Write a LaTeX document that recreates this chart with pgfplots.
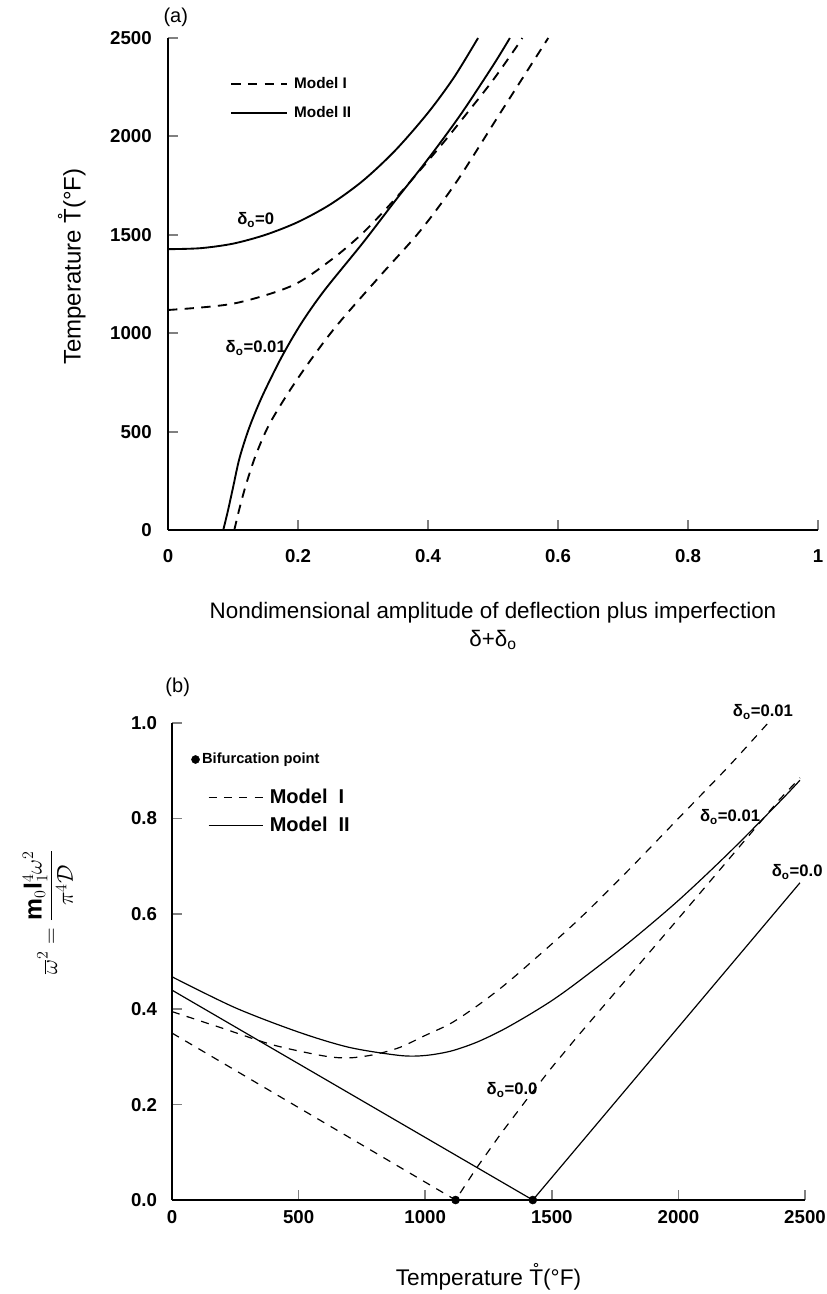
\documentclass[border=0pt]{standalone}
\usepackage{pgfplots}
\pgfplotsset{compat=1.18}
\usepackage{fontspec}
\setmainfont{Liberation Sans}

\pgfplotsset{
  paper/.style={
    scale only axis, clip=false,
    axis x line*=bottom, axis y line*=left,
    tick align=inside, major tick length=7.5pt,
    /pgf/number format/assume math mode=true,
    /pgf/number format/1000 sep={},
    ticklabel style={font=\bfseries\fontsize{14}{16}\selectfont, inner sep=0pt},
    legend cell align=left,
    every axis title shift=0pt,
  },
}
\tikzset{lbl/.style={font=\bfseries\fontsize{12.5}{14}\selectfont, inner sep=0pt}}

\begin{document}
\begin{tikzpicture}
\useasboundingbox (0,0) rectangle (619.5pt,-970.5pt);

% ---------------- (a) ----------------
\begin{axis}[paper,
  at={(126pt,-397.5pt)}, anchor=south west,
  width=487.5pt, height=369pt,
  xmin=0, xmax=1, ymin=0, ymax=2500,
  xtick={0,0.2,0.4,0.6,0.8,1}, ytick={0,500,1000,1500,2000,2500},
  axis line style={line width=2.2pt}, major tick style={line width=1.5pt},
  xticklabel style={yshift=-14.5pt}, yticklabel style={xshift=-12pt},
  title={(a)}, title style={at={(axis description cs:0.012,1.043)}, anchor=center,
    yshift=0pt, font=\fontsize{15}{18}\selectfont, inner sep=0pt},
  ylabel={Temperature \r{T}(°F)},
  ylabel style={at={(axis description cs:-0.148,0.535)}, anchor=center,
    font=\fontsize{18}{21}\selectfont},
  xlabel={Nondimensional amplitude of deflection plus imperfection\\δ+δ\textsubscript{o}},
  xlabel style={at={(axis description cs:0.5,-0.195)}, anchor=center, align=center,
    font=\fontsize{16.8}{21}\selectfont},
  legend style={draw=none, fill=none, at={(axis description cs:0.0954,0.9207)},
    anchor=north west, inner sep=0pt, row sep=12pt, column sep=4.5pt,
    nodes={inner sep=0pt, font=\bfseries\fontsize{11.5}{13}\selectfont}},
  legend image code/.code={\draw[#1] (0pt,0pt) -- (42pt,0pt);},
]
% Model I, delta_o = 0
\addplot[black, line width=1.4pt, dash pattern=on 7pt off 5.5pt, smooth] coordinates {
  (0,1118) (0.1,1150) (0.19,1240) (0.25,1370) (0.3,1510) (0.352,1692)
  (0.418,1946) (0.46,2118) (0.5,2286) (0.538,2464) (0.545,2500)};
\addlegendentry{Model I}
% Model II, delta_o = 0
\addplot[black, line width=1.4pt, smooth] coordinates {
  (0,1427) (0.05,1432) (0.1,1455) (0.15,1500) (0.2,1565) (0.25,1655)
  (0.3,1775) (0.35,1930) (0.4,2120) (0.44,2300) (0.477,2500)};
\addlegendentry{Model II}
% Model II, delta_o = 0.01
\addplot[black, line width=1.4pt, smooth, forget plot] coordinates {
  (0.085,0) (0.092,95) (0.1,215) (0.11,365) (0.125,520) (0.145,680)
  (0.175,880) (0.205,1050) (0.24,1215) (0.30,1460) (0.35,1675) (0.40,1885)
  (0.45,2110) (0.50,2360) (0.526,2500)};
% Model I, delta_o = 0.01
\addplot[black, line width=1.4pt, dash pattern=on 7pt off 5.5pt, smooth, forget plot] coordinates {
  (0.102,0) (0.11,110) (0.12,230) (0.135,380) (0.157,544) (0.198,762)
  (0.254,1016) (0.326,1290) (0.388,1520) (0.444,1770) (0.511,2118) (0.585,2500)};

\node[lbl] at (axis cs:0.135,1575) {δ\textsubscript{o}=0};
\node[lbl] at (axis cs:0.135,925) {δ\textsubscript{o}=0.01};
\end{axis}

% ---------------- (b) ----------------
\begin{axis}[paper,
  at={(129pt,-900pt)}, anchor=south west,
  width=474.75pt, height=357.75pt,
  xmin=0, xmax=2500, ymin=0, ymax=1,
  xtick={0,500,1000,1500,2000,2500}, ytick={0,0.2,0.4,0.6,0.8,1},
  yticklabel style={/pgf/number format/fixed, /pgf/number format/fixed zerofill,
    /pgf/number format/precision=1, xshift=-11pt},
  axis line style={line width=1.5pt}, major tick style={line width=1.2pt},
  xticklabel style={yshift=-8pt},
  title={(b)}, title style={at={(axis description cs:0.009,1.075)}, anchor=center,
    yshift=0pt, font=\fontsize{15}{18}\selectfont, inner sep=0pt},
  xlabel={Temperature \r{T}(°F)},
  xlabel style={at={(axis description cs:0.5,-0.161)}, anchor=center,
    font=\fontsize{17}{20}\selectfont},
  ylabel={$\displaystyle\overline{\omega}^2=\frac{\mathbf{m}_0\mathbf{l}_1^4\omega^2}{\pi^4\mathcal{D}}$},
  ylabel style={at={(axis description cs:-0.196,0.604)}, anchor=center,
    font=\fontsize{18.5}{22}\selectfont},
  legend style={draw=none, fill=none, at={(axis description cs:0.030,0.933)},
    anchor=north west, inner sep=0pt, row sep=8.5pt, column sep=5pt,
    nodes={inner sep=0pt, font=\bfseries\fontsize{15}{18}\selectfont}},
  legend image code/.code={\draw[#1] (0pt,0pt) -- (40.5pt,0pt);},
]
% bifurcation points
\addplot[only marks, mark=*, mark size=3pt, black,
  legend image code/.code={%
    \fill[black] (-9.75pt,7.5pt) circle (3pt);
    \node[overlay, anchor=west, inner sep=0pt, font=\bfseries\fontsize{11}{13}\selectfont]
      at (-5pt,7.5pt) {Bifurcation point};}]
  coordinates {(1120,0) (1425,0)};
\addlegendentry{\phantom{Model I}}
% Model I, delta_o = 0.01
\addplot[black, line width=0.9pt, dash pattern=on 6pt off 5.5pt, smooth] coordinates {
  (0,0.395) (200,0.36) (400,0.325) (600,0.302) (700,0.298) (800,0.305)
  (900,0.32) (1000,0.345) (1100,0.37) (1200,0.405) (1300,0.445) (1400,0.49)
  (1600,0.585) (1800,0.69) (2000,0.80) (2200,0.91) (2354,1.0)};
\addlegendentry{Model\ \ I}
% Model II, delta_o = 0.01
\addplot[black, line width=0.9pt, smooth] coordinates {
  (0,0.468) (250,0.403) (500,0.352) (700,0.32) (900,0.303) (1000,0.303)
  (1100,0.312) (1200,0.33) (1300,0.355) (1400,0.385) (1500,0.418) (1600,0.456)
  (1800,0.538) (2000,0.628) (2200,0.728) (2400,0.835) (2480,0.88)};
\addlegendentry{Model\ \ II}
% Model I, delta_o = 0
\addplot[black, line width=0.9pt, dash pattern=on 6pt off 5.5pt, forget plot] coordinates {
  (0,0.35) (1120,0) (1200,0.065) (1300,0.14) (1400,0.21) (1500,0.278)
  (1600,0.342) (1700,0.404) (1800,0.466) (2000,0.59) (2200,0.715)
  (2400,0.84) (2480,0.885)};
% Model II, delta_o = 0
\addplot[black, line width=0.9pt, forget plot] coordinates {
  (0,0.44) (1425,0) (2480,0.665)};

\node[lbl] at (axis cs:2334,1.023) {δ\textsubscript{o}=0.01};
\node[lbl] at (axis cs:2204,0.803) {δ\textsubscript{o}=0.01};
\node[lbl] at (axis cs:2469,0.688) {δ\textsubscript{o}=0.0};
\node[lbl] at (axis cs:1343,0.231) {δ\textsubscript{o}=0.0};
\end{axis}
\end{tikzpicture}
\end{document}
